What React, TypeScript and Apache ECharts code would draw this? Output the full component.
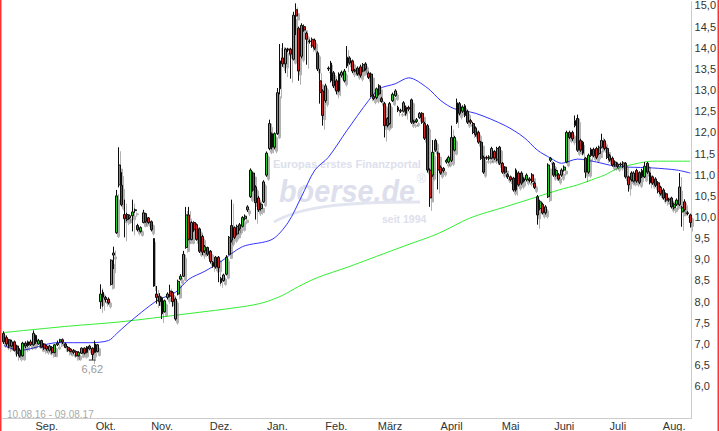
import React, { useEffect, useRef } from "react";
import * as echarts from "echarts";

// trading calendar (Xetra) 10.08.16 - 09.08.17
const firstDay = "2016-08-10";
const lastDay = "2017-08-09";
const closedDays = ["2016-12-26", "2017-04-14", "2017-04-17", "2017-05-01"];
const monthLabels = ["Sep.", "Okt.", "Nov.", "Dez.", "Jan.", "Feb.", "März", "April", "Mai", "Juni", "Juli", "Aug."];
// day index under each month label, as placed in the picture
const monthLabelIdx = [16, 38, 59, 81, 102, 124, 144, 167, 189, 209, 229, 250];
const yTickLabels = ["6,0", "6,5", "7,0", "7,5", "8,0", "8,5", "9,0", "9,5", "10,0", "10,5", "11,0", "11,5", "12,0", "12,5", "13,0", "13,5", "14,0", "14,5", "15,0"];

// [open, close, low, high]
const candles: number[][] = [
  [7.25,7.05,7.0,7.3],[7.15,7.0,6.95,7.2],[7.1,6.95,6.9,7.12],[6.95,7.05,6.92,7.1],[7.05,6.85,6.82,7.08],[6.95,6.78,6.7,6.98],[6.85,6.72,6.68,6.9],[6.72,7.02,6.7,7.05],[7.02,6.95,6.9,7.06],[6.96,7.05,6.93,7.08],
  [7.05,6.98,6.95,7.1],[6.98,7.25,6.96,7.32],[7.2,7.05,7.0,7.22],[7.0,7.08,6.98,7.12],[7.08,6.92,6.9,7.1],[7.0,6.9,6.86,7.02],[6.95,6.88,6.84,6.98],[6.85,6.95,6.82,6.98],[6.92,6.8,6.77,6.95],[6.8,6.98,6.78,7.0],
  [6.98,7.02,6.95,7.08],[7.05,7.1,7.02,7.12],[7.1,7.05,7.0,7.13],[7.0,6.92,6.9,7.03],[6.92,6.85,6.82,6.95],[6.88,6.82,6.8,6.9],[6.85,6.8,6.76,6.88],[6.82,6.72,6.7,6.85],[6.72,6.8,6.7,6.83],[6.78,6.9,6.76,6.92],
  [6.9,6.78,6.75,6.92],[6.8,6.93,6.78,6.95],[6.95,6.88,6.85,6.98],[6.9,6.75,6.62,6.92],[7.0,6.8,6.78,7.08],[6.82,6.98,6.8,7.0],[8.0,8.18,7.83,8.41],[8.22,8.1,7.88,8.28],[8.1,8.05,7.98,8.14],[8.06,7.97,7.93,8.1],
  [8.41,8.98,8.38,9.0],[9.1,9.15,8.77,9.3],[9.63,10.5,9.6,10.64],[10.76,11.23,10.7,11.65],[10.75,10.29,10.25,11.06],[10.06,9.96,9.52,10.41],[10.06,9.94,9.9,10.1],[9.98,10.03,9.95,10.06],[10.03,10.12,9.66,10.41],[10.15,10.17,10.1,10.2],
  [9.8,9.7,9.66,9.84],[9.66,9.75,9.63,9.78],[9.87,10.1,9.85,10.17],[10.08,9.9,9.86,10.1],[9.98,9.87,9.84,10.0],[9.89,9.7,9.66,9.92],[9.49,8.37,8.35,9.5],[8.18,8.1,7.95,8.37],[8.13,8.0,7.9,8.2],[8.09,7.71,7.59,8.12],
  [7.76,8.02,7.74,8.05],[8.1,8.18,8.05,8.22],[8.25,8.13,8.1,8.4],[8.22,8.0,7.88,8.25],[7.59,8.06,7.55,8.1],[8.18,8.48,8.15,8.52],[8.53,8.6,8.5,8.65],[8.6,9.12,8.58,9.2],[9.28,10.05,9.25,10.24],[10.05,9.47,9.45,10.24],
  [9.47,9.87,9.45,9.9],[9.87,9.7,9.65,9.9],[9.82,9.47,9.44,9.85],[9.72,9.19,9.15,9.75],[9.54,9.17,9.1,9.58],[9.2,9.3,9.15,9.34],[9.28,9.12,9.08,9.3],[9.19,8.95,8.9,9.22],[8.93,8.84,8.8,8.96],[9.05,8.82,8.78,9.08],
  [9.05,8.8,8.46,9.08],[8.45,8.55,8.42,8.58],[8.5,8.63,8.47,8.66],[8.65,9.05,8.62,9.1],[9.12,9.52,9.1,9.55],[9.8,9.45,9.4,10.41],[9.75,9.52,9.48,9.78],[9.6,9.78,9.56,9.82],[9.82,9.72,9.68,9.86],[9.78,9.99,9.75,10.02],
  [9.96,10.02,9.92,10.06],[10.17,10.24,10.12,10.28],[10.48,11.11,10.45,11.15],[11.04,10.64,10.6,11.08],[10.71,10.34,9.94,10.75],[10.45,10.17,10.12,10.5],[10.2,10.3,10.15,10.34],[10.36,10.83,10.33,10.87],[10.99,11.51,10.95,11.55],[11.62,12.21,11.58,12.3],
  [11.97,11.65,11.6,12.0],[11.65,11.97,11.6,12.0],[11.97,12.94,11.94,13.05],[13.03,13.69,12.9,14.09],[13.76,13.62,13.55,14.11],[13.62,13.97,13.4,14.0],[13.97,13.95,13.9,14.0],[13.97,13.85,13.27,14.0],[13.73,14.77,13.7,14.85],[14.9,14.75,14.3,15.05],
  [14.46,13.45,13.22,14.5],[13.8,14.53,13.75,14.58],[14.5,14.42,14.38,14.55],[14.34,14.2,13.6,14.38],[14.16,14.15,14.1,14.2],[14.2,14.04,14.0,14.24],[14.18,13.99,13.95,14.22],[13.88,13.5,13.45,13.92],[13.22,12.94,12.68,13.5],[12.98,12.4,12.16,13.02],
  [12.75,13.1,12.7,13.15],[13.5,13.52,13.45,13.56],[13.64,13.22,13.18,13.69],[13.41,13.1,13.05,13.45],[13.22,12.98,12.9,13.26],[12.98,13.38,12.95,13.42],[13.35,13.42,13.3,13.46],[13.22,13.45,13.18,13.5],[13.57,13.78,13.52,14.04],[13.76,13.64,13.6,13.8],
  [13.69,13.45,13.4,13.72],[13.45,13.47,13.42,13.5],[13.52,13.38,13.34,13.56],[13.55,13.35,13.3,13.6],[13.45,13.6,13.42,13.64],[13.62,13.5,13.46,13.66],[13.4,13.3,13.26,13.44],[13.38,12.87,12.83,13.42],[12.85,12.8,12.76,12.9],[12.82,13.03,12.78,13.06],
  [13.1,12.91,12.87,13.14],[12.8,12.73,12.7,12.84],[12.68,12.16,11.88,12.72],[12.33,12.16,12.12,12.36],[12.21,12.68,12.18,12.72],[12.75,12.9,12.72,12.94],[12.87,12.98,12.84,13.02],[12.59,12.52,12.48,12.63],[12.52,12.5,12.46,12.56],[12.5,12.7,12.47,12.74],
  [12.59,12.45,12.4,12.63],[12.59,12.55,12.5,12.63],[12.77,12.24,12.2,12.8],[12.26,12.24,12.2,12.3],[12.26,12.3,12.22,12.34],[12.35,12.45,12.32,12.48],[12.45,12.24,12.2,12.48],[12.21,11.86,11.82,12.25],[12.16,11.11,11.05,12.2],[11.11,10.45,10.24,11.15],
  [10.99,11.53,10.95,11.82],[11.81,11.58,11.54,11.85],[11.51,11.11,10.65,11.55],[11.18,11.04,11.0,11.22],[11.15,11.09,11.05,11.18],[11.3,11.34,11.26,11.38],[11.3,11.41,11.27,11.45],[11.34,11.88,11.3,12.16],[11.58,11.88,11.55,11.92],[12.24,12.7,12.2,12.8],
  [12.68,12.45,12.4,12.72],[12.5,12.6,12.46,12.64],[12.63,12.4,12.36,12.67],[12.5,12.24,12.2,12.54],[12.28,12.24,12.2,12.32],[12.21,12.0,11.96,12.25],[12.1,11.95,11.9,12.14],[12.0,11.77,11.73,12.04],[11.77,11.39,11.35,11.8],[11.41,11.06,11.02,11.45],
  [11.41,11.39,11.35,11.45],[11.38,11.42,11.34,11.46],[11.39,11.62,11.36,11.66],[11.55,11.39,11.35,11.58],[11.35,11.62,11.32,11.66],[11.65,11.27,11.23,11.68],[11.27,11.06,11.02,11.3],[11.18,11.06,11.02,11.2],[11.0,10.95,10.9,11.04],[10.95,10.88,10.84,10.98],
  [10.92,10.64,10.6,10.95],[10.64,11.11,10.6,11.15],[11.04,10.76,10.72,11.08],[11.04,10.8,10.76,11.08],[10.85,10.9,10.82,10.94],[10.88,10.99,10.84,11.03],[10.9,10.86,10.82,10.94],[11.0,10.84,10.8,11.04],[10.8,10.7,10.66,10.84],[10.48,10.05,9.82,10.52],
  [10.2,10.36,10.16,10.4],[10.3,10.1,10.06,10.34],[10.1,10.24,10.06,10.28],[10.48,11.23,10.45,11.27],[11.34,11.39,11.3,11.42],[11.27,10.99,10.95,11.3],[10.99,11.1,10.95,11.14],[11.0,10.9,10.86,11.04],[10.99,11.11,10.95,11.15],[11.11,11.18,11.07,11.22],
  [11.3,12.0,11.27,12.04],[12.0,11.88,11.84,12.04],[12.0,11.85,11.8,12.04],[12.16,12.28,12.12,12.4],[12.33,11.58,11.54,12.42],[11.81,11.58,11.54,11.85],[11.77,11.51,11.47,11.8],[11.39,11.06,10.92,11.42],[11.06,11.46,11.02,11.5],[11.45,11.6,11.42,11.64],
  [11.6,11.45,11.41,11.64],[11.62,11.41,11.37,11.66],[11.5,11.65,11.46,11.69],[11.65,11.81,11.62,11.97],[11.8,11.62,11.58,11.84],[11.62,11.41,11.37,11.66],[11.45,11.35,11.31,11.49],[11.39,11.23,11.19,11.43],[11.23,11.3,11.19,11.34],[11.25,11.2,11.16,11.29],
  [11.25,11.23,11.19,11.29],[11.2,11.28,11.16,11.32],[11.27,10.95,10.91,11.3],[10.95,10.76,10.6,10.98],[11.04,10.88,10.84,11.08],[10.85,11.04,10.82,11.08],[11.1,10.85,10.81,11.14],[11.05,10.82,10.78,11.08],[10.95,11.1,10.92,11.14],[10.95,11.2,10.92,11.3],
  [11.27,11.06,11.02,11.3],[11.04,10.81,10.77,11.08],[10.95,10.8,10.76,10.98],[10.9,10.75,10.71,10.94],[10.81,10.6,10.56,10.85],[10.7,10.55,10.51,10.74],[10.64,10.45,10.41,10.68],[10.55,10.4,10.36,10.58],[10.42,10.4,10.36,10.45],[10.45,10.24,10.2,10.48],
  [10.22,10.3,10.18,10.34],[10.3,10.4,10.26,10.44],[10.29,10.71,10.26,11.04],[10.12,10.22,9.77,10.26],[10.36,10.17,10.13,10.42],[10.1,10.08,10.04,10.14],[10.05,9.87,9.75,10.08],
];

// moving average (blue) read at day indices
const maShortIdx = [0, 6, 20, 32, 39, 42, 46, 57, 64, 69, 75, 81, 89, 100, 106, 111, 116, 121, 128, 136, 140, 146, 151, 158, 163, 168, 176, 187, 194, 199, 204, 208, 214, 221, 228, 233, 242, 251, 256];
const maShortVal = [6.96, 6.85, 7.03, 7.03, 7.08, 7.24, 7.47, 8.02, 8.22, 8.53, 8.72, 8.95, 9.3, 9.47, 9.87, 10.48, 11.11, 11.41, 12.05, 12.75, 13.03, 13.15, 13.29, 13.05, 12.75, 12.56, 12.45, 12.16, 11.88, 11.58, 11.39, 11.27, 11.37, 11.3, 11.2, 11.18, 11.16, 11.11, 11.04];
// moving average (green) read at day indices
const maLongIdx = [0, 24, 43, 68, 89, 97, 104, 110, 117, 128, 139, 150, 162, 174, 187, 199, 207, 214, 221, 224, 229, 235, 242, 256];
const maLongVal = [7.27, 7.42, 7.52, 7.71, 7.88, 7.98, 8.15, 8.36, 8.57, 8.81, 9.07, 9.33, 9.61, 9.98, 10.24, 10.48, 10.64, 10.76, 10.92, 10.99, 11.15, 11.25, 11.32, 11.32];

const FONT = "'Liberation Sans', Arial, sans-serif";

function buildDays(): string[] {
  const out: string[] = [];
  const d = new Date(firstDay + "T00:00:00Z");
  const end = new Date(lastDay + "T00:00:00Z").getTime();
  while (d.getTime() <= end) {
    const wd = d.getUTCDay();
    const s = d.toISOString().slice(0, 10);
    if (wd !== 0 && wd !== 6 && !closedDays.includes(s)) out.push(s);
    d.setUTCDate(d.getUTCDate() + 1);
  }
  return out;
}

function sparse(idx: number[], val: number[], n: number) {
  const arr: (number | null)[] = new Array(n).fill(null);
  idx.forEach((i, k) => { arr[i] = val[k]; });
  return arr;
}

export default function App() {
  const ref = useRef<HTMLDivElement>(null);
  useEffect(() => {
    if (!ref.current) return;
    const chart = echarts.init(ref.current, null, { renderer: "svg" });
    const days = buildDays().slice(0, candles.length);
    const n = days.length;
    const labelAt = new Map<number, string>();
    monthLabelIdx.forEach((i, k) => labelAt.set(i, monthLabels[k]));
    const labelFor = (v: number) => {
      const s = v.toFixed(1).replace(".", ",");
      return yTickLabels.includes(s) && Math.abs(v * 2 - Math.round(v * 2)) < 1e-6 ? s : "";
    };
    chart.setOption({
      animation: false,
      backgroundColor: "#ffffff",
      textStyle: { fontFamily: FONT },
      grid: { left: 2.5, right: 22, top: 0, bottom: 11 },
      xAxis: {
        type: "category",
        data: days,
        boundaryGap: true,
        axisLine: { show: true, lineStyle: { color: "#cccccc", width: 1 } },
        axisTick: { show: false },
        splitLine: { show: false },
        axisLabel: {
          interval: (i: number) => labelAt.has(i),
          formatter: (_v: string, i: number) => labelAt.get(i) || "",
          color: "#333333",
          fontSize: 11,
          fontFamily: FONT,
          margin: 2,
        },
      },
      yAxis: {
        type: "value",
        position: "right",
        min: 5.25,
        max: 15.09,
        interval: 0.25,
        scale: true,
        axisLine: { show: true, lineStyle: { color: "#cccccc", width: 1 } },
        axisTick: { show: false },
        splitLine: { show: false },
        axisLabel: {
          formatter: (v: number) => labelFor(v),
          color: "#333333",
          fontSize: 11,
          fontFamily: FONT,
          margin: 3,
          showMaxLabel: false,
        },
      },
      graphic: [
        { type: "text", z: 0, left: 273, top: 158, style: { text: "Europas erstes Finanzportal", fill: "#dde0ec", font: "bold 11px " + FONT } },
        { type: "text", z: 0, x: 279, y: 174, scaleX: 0.9, style: { text: "boerse.de", fill: "#dde0ec", font: "italic bold 32px " + FONT } },
        { type: "text", z: 0, left: 417, top: 173, style: { text: "®", fill: "#dde0ec", font: "12px " + FONT } },
        { type: "bezierCurve", z: 0, shape: { x1: 274, y1: 222, cpx1: 300, cpy1: 207, cpx2: 340, cpy2: 202, x2: 420, y2: 202 }, style: { stroke: "#e2e5f0", lineWidth: 3, fill: "none" } },
        { type: "text", z: 0, left: 382, top: 213, style: { text: "seit 1994", fill: "#dde0ec", font: "bold 10.5px " + FONT } },
        { type: "text", z: 5, left: 7, top: 409, style: { text: "10.08.16 - 09.08.17", fill: "#aaaaaa", font: "10px " + FONT } },
        { type: "line", z: 10, shape: { x1: 0.75, y1: 0, x2: 0.75, y2: 431 }, style: { stroke: "#ff3333", lineWidth: 1.5 } },
        { type: "line", z: 10, shape: { x1: 718.25, y1: 0, x2: 718.25, y2: 431 }, style: { stroke: "#ff3333", lineWidth: 1.5 } },
      ],
      series: [
        {
          type: "line",
          data: sparse(maLongIdx, maLongVal, n),
          connectNulls: true,
          smooth: 0.3,
          showSymbol: false,
          symbol: "none",
          lineStyle: { color: "#33ee33", width: 1 },
          z: 3,
        },
        {
          type: "line",
          data: sparse(maShortIdx, maShortVal, n),
          connectNulls: true,
          smooth: 0.3,
          showSymbol: false,
          symbol: "none",
          lineStyle: { color: "#3333ff", width: 1 },
          z: 3,
        },
        {
          type: "candlestick",
          data: candles,
          barWidth: 2.4,
          z: 4,
          itemStyle: {
            color: "#22cc22",
            color0: "#cc2222",
            borderColor: "#111111",
            borderColor0: "#111111",
            borderWidth: 1,
            shadowColor: "rgba(0,0,0,0.3)",
            shadowOffsetX: 2,
            shadowOffsetY: 4,
            shadowBlur: 0.01,
          },
          markPoint: {
            symbol: "rect",
            symbolSize: [7, 1],
            itemStyle: { color: "#333333" },
            data: [{ type: "min", valueDim: "lowest" }],
            label: {
              show: true,
              position: "bottom",
              distance: 3,
              formatter: (p: any) => Number(p.value).toFixed(2).replace(".", ","),
              color: "#999999",
              fontSize: 11,
              fontFamily: FONT,
            },
          },
        },
      ],
    });
    return () => chart.dispose();
  }, []);
  return <div ref={ref} style={{ position: "fixed", left: 0, top: 0, width: 719, height: 431 }} />;
}
